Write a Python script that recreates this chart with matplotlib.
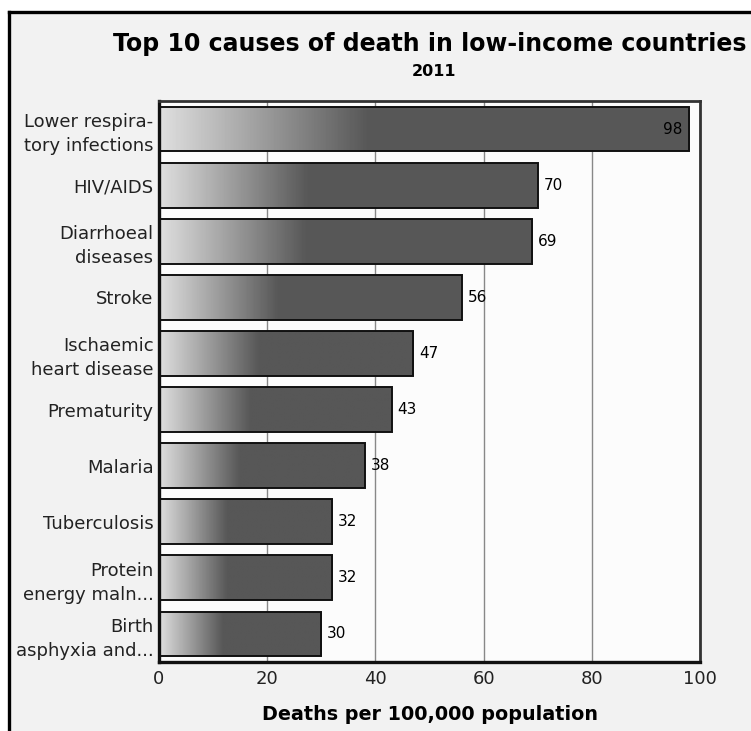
import numpy as np
import matplotlib
matplotlib.use('Agg')
import matplotlib.pyplot as plt
from matplotlib.patches import Rectangle
from matplotlib.lines import Line2D

## top 10 causes of death, low-income countries, 2011

causes = ['Lower respira-\ntory infections', 'HIV/AIDS', 'Diarrhoeal\ndiseases',
          'Stroke', 'Ischaemic\nheart disease', 'Prematurity', 'Malaria',
          'Tuberculosis', 'Protein\nenergy maln...', 'Birth\nasphyxia and...']
deaths = [98, 70, 69, 56, 47, 43, 38, 32, 32, 30]
xticks = [0, 20, 40, 60, 80, 100]

plt.rcParams['font.family'] = 'DejaVu Sans'

fig = plt.figure(figsize=(7.51, 7.31), dpi=100)
fig.patch.set_facecolor('white')

ax = fig.add_axes([159/751, 1-662/731, 541/751, 561/731])
ax.set_facecolor('#fcfcfc')

ypos = np.arange(len(causes))

# gradient: light to dark over first 40% of the bar, then flat dark
light, dark = 0.87, 0.34
ramp = np.concatenate([np.linspace(light, dark, 40), np.full(60, dark)])
grad = np.tile(ramp, (2, 1))

bars = ax.barh(ypos, deaths, height=0.8, color='none', edgecolor='#111111',
               linewidth=1.4, zorder=3)
for b, v, y in zip(bars, deaths, ypos):
    im = ax.imshow(grad, cmap='gray', vmin=0, vmax=1, aspect='auto',
                   extent=[0, v, y + 0.4, y - 0.4], zorder=2,
                   interpolation='bilinear')
    im.set_clip_path(b)
    if v == max(deaths):
        ax.text(v - 1.2, y, str(v), ha='right', va='center', fontsize=11, zorder=4)
    else:
        ax.text(v + 1.1, y, str(v), ha='left', va='center', fontsize=11, zorder=4)

ax.set_xlim(0, 100)
ax.set_ylim(len(causes) - 0.5, -0.5)
ax.set_xticks(xticks)
ax.set_xticklabels([str(t) for t in xticks], fontsize=13, color='#222222')
ax.set_yticks(ypos)
ax.set_yticklabels(causes, fontsize=13, linespacing=1.42, color='#222222')
ax.tick_params(axis='both', length=0)
ax.tick_params(axis='y', pad=4)
ax.tick_params(axis='x', pad=6)

ax.xaxis.grid(True, color='#888888', linewidth=1.0, zorder=1)
ax.set_axisbelow(True)

for s in ['left', 'bottom']:
    ax.spines[s].set_linewidth(2.4)
    ax.spines[s].set_color('#111111')
for s in ['right', 'top']:
    ax.spines[s].set_linewidth(2.0)
    ax.spines[s].set_color('#333333')

ax.set_xlabel('Deaths per 100,000 population', fontsize=13.8, fontweight='bold',
              labelpad=12)

fig.text(430/751, 1-44/731, 'Top 10 causes of death in low-income countries',
         ha='center', va='center', fontsize=17, fontweight='bold')
fig.text(434/751, 1-71/731, '2011', ha='center', va='center', fontsize=11.5,
         fontweight='bold')

# outer frame (cut off at right and bottom)
fig.add_artist(Rectangle((8.5/751, 0), 1, 1-11.5/731, transform=fig.transFigure,
                         facecolor='#f2f2f2', edgecolor='none', zorder=-1))
fig.add_artist(Line2D([8.5/751, 8.5/751], [0, 1-11.5/731], color='black',
                      linewidth=2.4, transform=fig.transFigure))
fig.add_artist(Line2D([8.5/751, 1], [1-11.5/731, 1-11.5/731], color='black',
                      linewidth=2.4, transform=fig.transFigure))

fig.savefig('out.png', dpi=100)
